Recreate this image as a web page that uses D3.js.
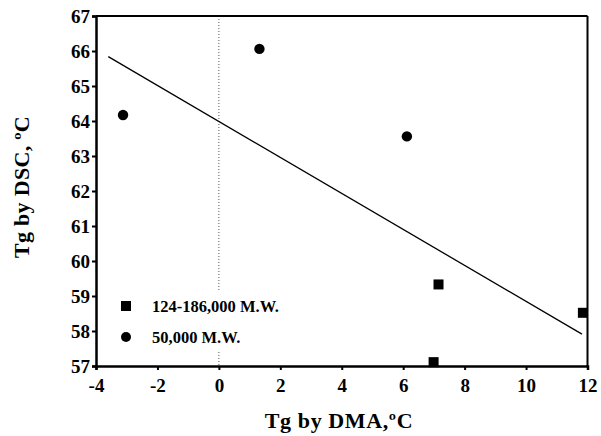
<!DOCTYPE html>
<html><head><meta charset="utf-8">
<script src="https://cdn.jsdelivr.net/npm/d3@7"></script>
<style>body{margin:0;background:#fff;}</style>
</head><body>
<svg id="c" width="601" height="436"></svg>
<script>
const xTicks = [-4,-2,0,2,4,6,8,10,12];
const yTicks = [57,58,59,60,61,62,63,64,65,66,67];
const hiMW_x = [7.15, 11.85, 6.99];
const hiMW_y = [59.33, 58.52, 57.11];
const loMW_x = [-3.12, 1.32, 6.12];
const loMW_y = [64.17, 66.06, 63.56];
const fitX = [-3.6, 11.82];
const fitY = [65.84, 57.91];
const legendLabels = ["124-186,000 M.W.", "50,000 M.W."];

const svg = d3.select("#c");
const m = {l:96, r:587.5, t:16, b:366};
const x = d3.scaleLinear().domain([-4,12]).range([m.l, m.r]);
const y = d3.scaleLinear().domain([57,67]).range([m.b, m.t]);
const serif = "'Liberation Serif','DejaVu Serif',serif";

// dotted zero line
svg.append("line").attr("x1",x(0)).attr("x2",x(0)).attr("y1",y(67)).attr("y2",y(57))
  .attr("stroke","#555").attr("stroke-width",1).attr("stroke-dasharray","1,2");

// frame top / right
svg.append("line").attr("x1",m.l).attr("x2",m.r).attr("y1",m.t).attr("y2",m.t).attr("stroke","#000").attr("stroke-width",2);
svg.append("line").attr("x1",m.r).attr("x2",m.r).attr("y1",m.t).attr("y2",m.b).attr("stroke","#000").attr("stroke-width",2);

// axes
const xa = svg.append("g").attr("transform",`translate(0,${m.b})`)
  .call(d3.axisBottom(x).tickValues(xTicks).tickSize(4).tickPadding(5).tickFormat(d=>String(d)));
const ya = svg.append("g").attr("transform",`translate(${m.l},0)`)
  .call(d3.axisLeft(y).tickValues(yTicks).tickSize(4).tickPadding(2).tickFormat(d=>String(d)));
[xa,ya].forEach(a=>{
  a.select(".domain").attr("stroke","#000").attr("stroke-width",2.5);
  a.selectAll(".tick line").attr("stroke","#000").attr("stroke-width",2);
  a.selectAll("text").attr("font-family",serif).attr("font-weight","bold").attr("font-size",19).attr("fill","#000");
});
xa.selectAll("text").attr("dy","0.9em");
ya.selectAll("text").attr("dy","0.35em");

// fit line
svg.append("line").attr("x1",x(fitX[0])).attr("y1",y(fitY[0])).attr("x2",x(fitX[1])).attr("y2",y(fitY[1]))
  .attr("stroke","#000").attr("stroke-width",1.3);

// legend (white background)
svg.append("rect").attr("x",112).attr("y",290).attr("width",175).attr("height",62).attr("fill","#fff");
svg.append("rect").attr("x",121).attr("y",301).attr("width",10).attr("height",10).attr("fill","#000");
svg.append("circle").attr("cx",126).attr("cy",337).attr("r",5).attr("fill","#000");
svg.append("text").attr("x",152).attr("y",312).text(legendLabels[0])
  .attr("font-family",serif).attr("font-size",16.5).attr("font-weight","bold").attr("fill","#000");
svg.append("text").attr("x",152).attr("y",343).text(legendLabels[1])
  .attr("font-family",serif).attr("font-size",16.5).attr("font-weight","bold").attr("fill","#000");

// points
const sq = 10;
svg.selectAll(".sq").data(hiMW_x.map((d,i)=>[d,hiMW_y[i]])).enter().append("rect")
  .attr("x",d=>x(d[0])-sq/2).attr("y",d=>y(d[1])-sq/2).attr("width",sq).attr("height",sq).attr("fill","#000");
svg.selectAll(".ci").data(loMW_x.map((d,i)=>[d,loMW_y[i]])).enter().append("circle")
  .attr("cx",d=>x(d[0])).attr("cy",d=>y(d[1])).attr("r",5.2).attr("fill","#000");

// axis titles
svg.append("text").attr("x",339).attr("y",428).attr("text-anchor","middle")
  .attr("font-family",serif).attr("font-size",22).attr("letter-spacing",0.6).attr("font-weight","bold").text("Tg by DMA,ºC");
svg.append("text").attr("transform","translate(29,187) rotate(-90)").attr("text-anchor","middle")
  .attr("font-family",serif).attr("font-size",22).attr("letter-spacing",0.3).attr("font-weight","bold").text("Tg by DSC, ºC");
</script>
</body></html>
